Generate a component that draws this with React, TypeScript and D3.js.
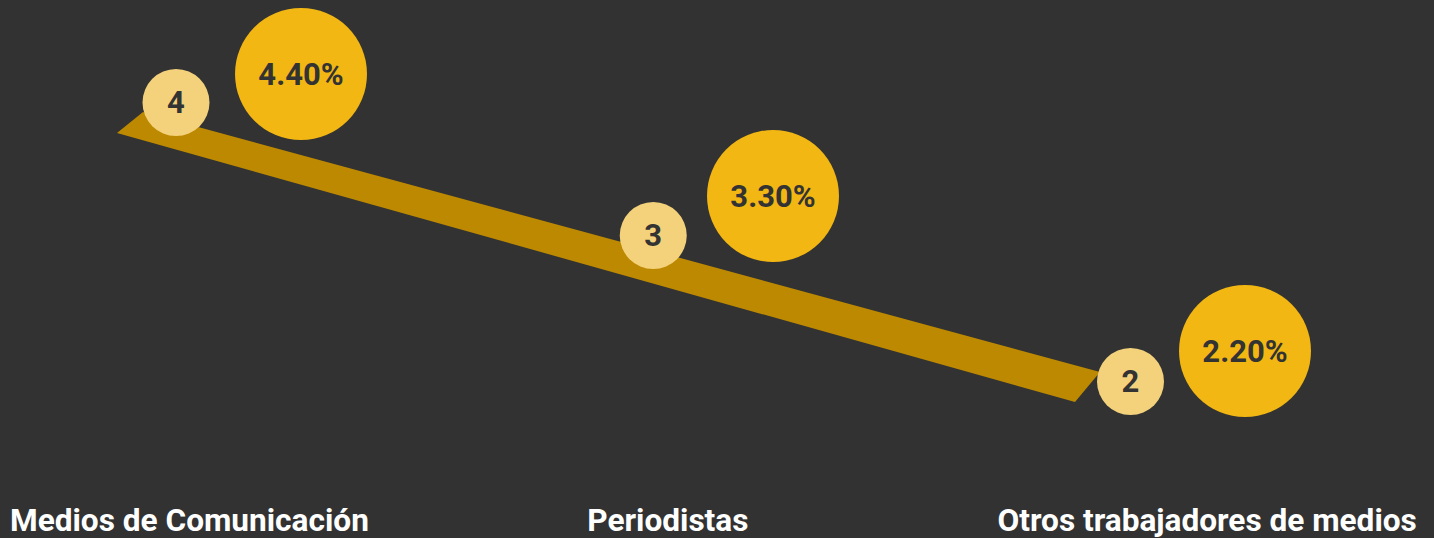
import React from "react";
import * as d3 from "d3";

const categories = ["Medios de Comunicación", "Periodistas", "Otros trabajadores de medios"];
const counts = [4, 3, 2];
const percents = [4.4, 3.3, 2.2];

const W = 1434;
const H = 538;
const BG = "#323232";
const BAND = "#BD8900";
const BIG = "#F2B713";
const SMALL = "#F4D27B";
const DARK = "#333333";

export default function App() {
  const xSmall = d3.scalePoint<string>().domain(categories).range([176, 1130.5]);
  const xBig = d3.scalePoint<string>().domain(categories).range([301, 1245]);
  const yCount = d3.scaleLinear().domain([2, 3, 4]).range([381.5, 235.5, 102.5]);
  const yPct = d3.scaleLinear().domain([2.2, 3.3, 4.4]).range([351, 196, 74]);
  const rSmall = 33.5;
  const rBig = 66;

  const first = categories[0];
  const last = categories[categories.length - 1];
  const x0 = xSmall(first)!;
  const x1 = xSmall(last)!;
  const y0 = yCount(counts[0]);
  const y1 = yCount(counts[counts.length - 1]);
  const band: [number, number][] = [
    [x0 - 59, y0 + 30.5],
    [x0 - 33, y0 + 9.5],
    [x1 - 30.5, y1 - 9.5],
    [x1 - 55.5, y1 + 20.5],
  ];
  const bandPath = d3.line()(band)! + "Z";

  const labelOffsets = [-166, -66, -133];

  return (
    <svg
      width={W}
      height={H}
      style={{ position: "absolute", left: 0, top: 0, background: BG }}
      fontFamily="Roboto, 'Noto Sans', sans-serif"
    >
      <rect width={W} height={H} fill={BG} />
      <path d={bandPath} fill={BAND} />
      {categories.map((c, i) => (
        <g key={c}>
          <circle cx={xBig(c)} cy={yPct(percents[i])} r={rBig} fill={BIG} />
          <text
            x={xBig(c)}
            y={yPct(percents[i])}
            textAnchor="middle"
            dominantBaseline="central"
            fontSize={31}
            fontWeight={700}
            fill={DARK}
          >
            {percents[i].toFixed(2) + "%"}
          </text>
          <circle cx={xSmall(c)} cy={yCount(counts[i])} r={rSmall} fill={SMALL} />
          <text
            x={xSmall(c)}
            y={yCount(counts[i])}
            textAnchor="middle"
            dominantBaseline="central"
            fontSize={31}
            fontWeight={700}
            fill={DARK}
          >
            {counts[i]}
          </text>
          <text
            x={xSmall(c)! + labelOffsets[i]}
            y={531}
            textAnchor="start"
            fontSize={31.6}
            fontWeight={700}
            fill="#ffffff"
          >
            {c}
          </text>
        </g>
      ))}
    </svg>
  );
}
